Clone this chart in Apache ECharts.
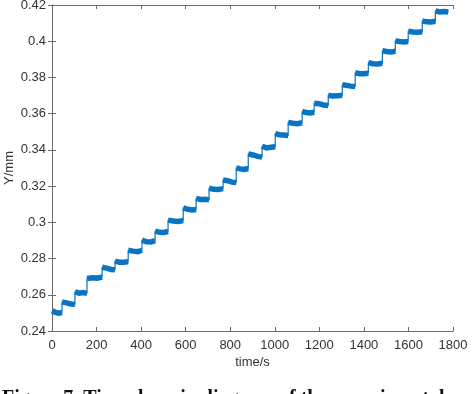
<!DOCTYPE html>
<html>
<head>
<meta charset="utf-8">
<script src="https://cdn.jsdelivr.net/npm/echarts@6/dist/echarts.min.js"></script>
<style>
html,body{margin:0;padding:0;background:#fff;}
#c{width:474px;height:394px;}
</style>
</head>
<body>
<div id="c"></div>
<script>
// time (s) and displacement (mm) (a few points per plateau)
var timeS = [
  0,15,30,45, 45,65,85,103, 103,122,140,157, 157,180,203,225, 225,245,265,283,
  283,303,323,342, 342,363,384,404, 404,424,444,463, 463,483,503,521, 521,544,567,589,
  589,609,629,647, 647,667,687,705, 705,726,747,768, 768,788,808,827, 827,845,863,881,
  881,902,923,943, 943,963,983,1002, 1002,1021,1040,1060, 1060,1081,1102,1123, 1123,1141,1159,1177,
  1177,1198,1219,1240, 1240,1261,1282,1303, 1303,1322,1341,1361, 1361,1381,1401,1420, 1420,1441,1462,1483,
  1483,1502,1521,1541, 1541,1560,1579,1599, 1599,1620,1641,1662, 1662,1682,1702,1721, 1721,1740,1760,1779
];
var dispMm = [
  0.2512,0.2503,0.2498,0.2502, 0.2560,0.2555,0.2549,0.2547, 0.2616,0.2609,0.2612,0.2608, 0.2690,0.2694,0.2692,0.2698, 0.2752,0.2747,0.2740,0.2738,
  0.2786,0.2779,0.2780,0.2783, 0.2846,0.2841,0.2838,0.2845, 0.2902,0.2893,0.2892,0.2899, 0.2952,0.2945,0.2944,0.2950, 0.3012,0.3007,0.3005,0.3010,
  0.3080,0.3072,0.3068,0.3071, 0.3132,0.3126,0.3127,0.3124, 0.3188,0.3182,0.3181,0.3186, 0.3234,0.3230,0.3222,0.3220, 0.3300,0.3295,0.3292,0.3297,
  0.3378,0.3372,0.3364,0.3360, 0.3420,0.3411,0.3414,0.3417, 0.3490,0.3484,0.3482,0.3480, 0.3552,0.3547,0.3545,0.3550, 0.3612,0.3606,0.3604,0.3608,
  0.3658,0.3655,0.3648,0.3645, 0.3702,0.3697,0.3699,0.3701, 0.3760,0.3756,0.3752,0.3750, 0.3826,0.3821,0.3820,0.3824, 0.3882,0.3876,0.3874,0.3878,
  0.3947,0.3943,0.3940,0.3945, 0.4002,0.3998,0.3996,0.3999, 0.4055,0.4051,0.4049,0.4052, 0.4112,0.4107,0.4106,0.4110, 0.4168,0.4162,0.4164,0.4161
];
var xTicks = [0,200,400,600,800,1000,1200,1400,1600,1800];
var yTicks = [0.24,0.26,0.28,0.3,0.32,0.34,0.36,0.38,0.4,0.42];
var xName = 'time/s';
var yName = 'Y/mm';
var caption = 'Figure 7. Time domain diagram of the experimental';

// full trace (thin, includes the vertical jumps)
var points = timeS.map(function(t,i){return [t, dispMm[i]];});
// plateaus only (thick, broken at each jump)
var plateaus = [];
timeS.forEach(function(t,i){
  if (i > 0 && t === timeS[i-1]) plateaus.push(null);
  plateaus.push([t, dispMm[i]]);
});

var axisCol = '#6a6a6a';
var labCol = '#333333';
var font = 'Liberation Sans, Arial, Helvetica, sans-serif';
var lineCol = '#0a74c4';

var chart = echarts.init(document.getElementById('c'), null, {renderer:'canvas'});
chart.setOption({
  animation:false,
  backgroundColor:'#ffffff',
  grid:{left:52, right:21, top:5, bottom:63, containLabel:false, outerBoundsMode:'none'},
  xAxis:[{
    type:'value', min:xTicks[0], max:xTicks[xTicks.length-1], interval:200,
    name:xName, nameLocation:'middle', nameGap:25, nameMoveOverlap:false,
    nameTextStyle:{color:labCol, fontSize:13, fontFamily:font},
    axisLine:{show:true, lineStyle:{color:axisCol, width:1}},
    axisTick:{show:true, inside:true, length:4, lineStyle:{color:axisCol}},
    axisLabel:{color:labCol, fontSize:13, fontFamily:font, margin:8, formatter:function(v){return String(v);}},
    splitLine:{show:false}
  },{
    type:'value', position:'top', min:xTicks[0], max:xTicks[xTicks.length-1], interval:200,
    axisLine:{show:true, lineStyle:{color:axisCol, width:1}},
    axisTick:{show:true, inside:true, length:4, lineStyle:{color:axisCol}},
    axisLabel:{show:false}, splitLine:{show:false}
  }],
  yAxis:[{
    type:'value', min:yTicks[0], max:yTicks[yTicks.length-1], interval:0.02,
    name:yName, nameLocation:'middle', nameGap:36, nameMoveOverlap:false,
    nameTextStyle:{color:labCol, fontSize:13, fontFamily:font},
    axisLine:{show:true, lineStyle:{color:axisCol, width:1}},
    axisTick:{show:true, inside:true, length:4, lineStyle:{color:axisCol}},
    axisLabel:{color:labCol, fontSize:13, fontFamily:font, margin:6},
    splitLine:{show:false}
  },{
    type:'value', position:'right', min:yTicks[0], max:yTicks[yTicks.length-1], interval:0.02,
    axisLine:{show:true, lineStyle:{color:axisCol, width:1}},
    axisTick:{show:true, inside:true, length:4, lineStyle:{color:axisCol}},
    axisLabel:{show:false}, splitLine:{show:false}
  }],
  series:[{
    type:'line', data:points, xAxisIndex:0, yAxisIndex:0,
    showSymbol:false, symbol:'none',
    lineStyle:{color:lineCol, width:1.2},
    itemStyle:{color:lineCol}
  },{
    type:'line', data:plateaus, xAxisIndex:0, yAxisIndex:0, connectNulls:false,
    showSymbol:false, symbol:'none',
    lineStyle:{color:lineCol, width:5.5, cap:'butt', join:'miter'},
    itemStyle:{color:lineCol}
  }],
  graphic:[{
    type:'text', left:2, top:389,
    style:{text:caption, fill:'#111', font:'bold 20px "Liberation Serif", "Times New Roman", serif'}
  }]
});
</script>
</body>
</html>
